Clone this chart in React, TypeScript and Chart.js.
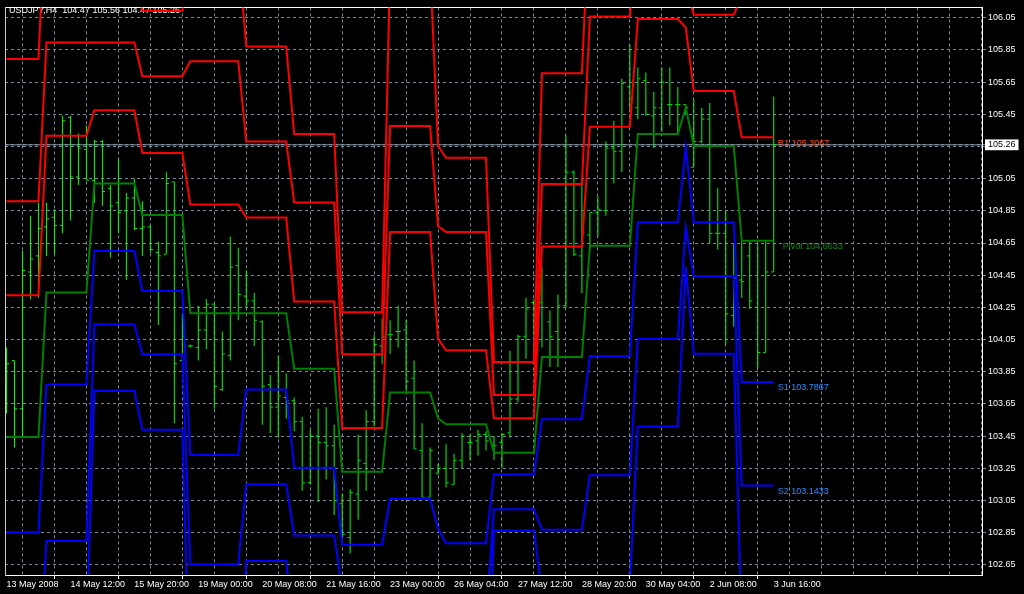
import React, { useEffect, useRef } from 'react';
import { Chart, registerables } from 'chart.js';

Chart.register(...registerables);

const symbolTitle = 'USDJPY,H4  104.47 105.56 104.47 105.26';

const xTickLabels = [
  '13 May 2008', '14 May 12:00', '15 May 20:00', '19 May 00:00', '20 May 08:00',
  '21 May 16:00', '23 May 00:00', '26 May 04:00', '27 May 12:00', '28 May 20:00',
  '30 May 04:00', '2 Jun 08:00', '3 Jun 16:00',
];

const priceTicks = [102.65, 102.85, 103.05, 103.25, 103.45, 103.65, 103.85, 104.05, 104.25, 104.45, 104.65, 104.85, 105.05, 105.25, 105.45, 105.65, 105.85, 106.05];
const bidPrice = 105.26;

// H4 bars
const highs = [104.00, 103.92, 104.60, 104.82, 104.90, 104.90, 104.86, 105.44, 105.44, 105.33, 105.38, 105.29, 105.29, 105.01, 105.17, 104.96, 105.05, 104.91, 104.76, 104.66, 105.09, 105.03, 104.21, 104.02, 104.26, 104.30, 104.27, 104.10, 104.69, 104.62, 104.48, 104.34, 104.17, 103.83, 103.95, 103.84, 103.69, 103.57, 103.49, 103.62, 103.63, 103.52, 103.09, 103.12, 103.46, 103.61, 104.08, 104.18, 104.17, 104.26, 104.17, 103.92, 103.53, 103.38, 103.28, 103.40, 103.34, 103.47, 103.46, 103.49, 103.48, 103.45, 103.47, 103.98, 104.08, 104.31, 104.30, 104.50, 104.23, 104.33, 105.32, 105.10, 105.05, 104.84, 104.94, 105.28, 105.41, 105.67, 105.88, 105.74, 105.71, 105.59, 105.74, 105.74, 105.62, 105.51, 105.54, 105.49, 105.52, 104.99, 104.85, 104.65, 104.66, 104.66, 104.65, 104.66, 105.56];
const lows = [103.59, 103.38, 103.45, 104.30, 104.31, 104.57, 104.58, 104.71, 104.79, 105.01, 105.04, 104.90, 104.88, 104.56, 104.71, 104.42, 104.73, 104.57, 104.59, 104.14, 104.58, 103.53, 103.92, 104.00, 103.92, 103.99, 103.62, 103.73, 103.92, 104.17, 104.25, 104.01, 103.52, 103.47, 103.44, 103.56, 103.48, 103.11, 103.15, 103.04, 103.18, 102.96, 102.83, 102.72, 102.93, 103.11, 103.51, 103.90, 103.96, 104.00, 103.73, 103.37, 103.07, 103.07, 103.21, 103.13, 103.15, 103.25, 103.30, 103.33, 103.36, 103.30, 103.25, 103.44, 103.66, 103.93, 103.93, 104.00, 103.88, 103.88, 104.25, 104.57, 104.34, 104.61, 104.69, 104.82, 105.02, 105.09, 105.48, 105.42, 105.44, 105.24, 105.34, 105.38, 105.32, 105.45, 105.12, 105.27, 104.65, 104.61, 104.02, 104.13, 104.31, 104.24, 103.87, 103.97, 104.47];
const opens = [103.79, 103.92, 103.62, 104.47, 104.57, 104.75, 104.81, 104.76, 105.43, 105.06, 105.23, 105.04, 105.28, 104.99, 104.90, 104.85, 104.93, 104.74, 104.75, 104.59, 104.58, 105.03, 103.92, 104.01, 104.00, 104.11, 104.27, 103.74, 103.95, 104.51, 104.32, 104.29, 104.16, 103.77, 103.63, 103.69, 103.67, 103.54, 103.16, 103.45, 103.41, 103.39, 103.03, 102.82, 103.09, 103.28, 103.54, 104.01, 104.08, 104.10, 104.11, 103.81, 103.36, 103.07, 103.22, 103.25, 103.15, 103.30, 103.41, 103.42, 103.46, 103.40, 103.41, 103.47, 103.68, 104.07, 104.28, 104.28, 104.16, 104.10, 104.26, 105.09, 104.57, 104.70, 104.84, 104.85, 105.24, 105.22, 105.62, 105.49, 105.66, 105.44, 105.49, 105.51, 105.51, 105.51, 105.12, 105.28, 105.42, 104.71, 104.71, 104.20, 104.42, 104.57, 104.25, 103.97, 104.47];
const closes = [103.90, 103.62, 104.48, 104.55, 104.74, 104.80, 104.76, 105.41, 105.06, 105.24, 105.04, 105.28, 104.97, 104.88, 104.84, 104.93, 104.74, 104.75, 104.61, 104.57, 105.02, 103.90, 104.07, 104.01, 104.11, 104.27, 103.76, 103.96, 104.50, 104.33, 104.29, 104.17, 103.76, 103.63, 103.70, 103.67, 103.54, 103.16, 103.45, 103.41, 103.39, 103.05, 102.84, 103.10, 103.30, 103.54, 104.02, 104.07, 104.08, 104.10, 103.79, 103.37, 103.07, 103.36, 103.25, 103.16, 103.30, 103.45, 103.41, 103.46, 103.42, 103.39, 103.46, 103.68, 104.07, 104.24, 104.24, 104.25, 104.07, 104.26, 105.09, 104.58, 104.71, 104.84, 104.86, 105.24, 105.22, 105.64, 105.49, 105.67, 105.45, 105.49, 105.65, 105.51, 105.51, 105.49, 105.28, 105.42, 104.71, 104.71, 104.21, 104.43, 104.41, 104.29, 103.97, 104.47, 105.26];

// daily pivot levels (one value per trading day) and the number of H4 bars of each day
const dayBars = [5, 6, 6, 6, 1, 6, 6, 6, 6, 6, 1, 6, 6, 6, 6, 6, 1, 6, 5];
const r3Levels = [105.794, 106.861, 106.350, 106.093, 106.448, 106.448, 105.871, 105.327, 104.219, 106.374, 105.253, 105.179, 103.911, 105.705, 106.797, 107.304, 106.682, 106.409, 106.8299];
const r2Levels = [104.910, 105.896, 105.896, 105.686, 105.779, 105.779, 105.280, 104.902, 103.958, 105.377, 104.754, 104.719, 103.705, 105.017, 106.058, 106.590, 106.237, 106.068, 106.1833];
const r1Levels = [104.325, 105.317, 105.475, 105.210, 104.890, 104.890, 104.808, 104.286, 103.500, 104.719, 104.054, 103.983, 103.561, 104.629, 105.372, 106.042, 105.988, 105.594, 105.3067];
const pivotLevels = [103.444, 104.342, 105.019, 104.824, 104.214, 104.214, 104.214, 103.869, 103.229, 103.721, 103.561, 103.524, 103.346, 103.941, 104.633, 105.327, 105.492, 105.253, 104.6633];
const s1Levels = [102.853, 103.771, 104.600, 104.352, 103.332, 103.332, 103.740, 103.253, 102.775, 103.062, 102.874, 102.785, 103.213, 103.555, 103.948, 104.779, 105.245, 104.779, 103.7867];
const s2Levels = [101.978, 102.798, 104.145, 103.958, 102.654, 102.654, 103.151, 102.833, 102.506, 102.065, 102.383, 102.328, 102.995, 102.868, 103.207, 104.054, 104.748, 104.445, 103.1433];
const s3Levels = [101.381, 102.225, 103.730, 103.490, 101.773, 101.773, 102.674, 102.223, 102.050, 101.406, 101.693, 101.588, 102.863, 102.482, 102.525, 103.510, 104.502, 103.962, 102.2666];

const levelLabelNames = ['R1', 'Pivot', 'S1', 'S2'];
const levelLabelValues = [105.3067, 104.6633, 103.7867, 103.1433];

const FONT = '"Liberation Sans", Arial, sans-serif';
const GRID = '#778899';

export default function App() {
  const ref = useRef<HTMLCanvasElement>(null);

  useEffect(() => {
    const canvas = ref.current;
    if (!canvas) return;
    const nBars = highs.length;
    const slots = 122.25;
    const xMin = -0.1875;
    const xMax = xMin + slots;
    const yMin = 102.587;
    const yMax = 106.114;

    const expand = (levels: number[]) => {
      const out: { x: number; y: number }[] = [];
      let i = 0;
      levels.forEach((v, d) => {
        for (let k = 0; k < dayBars[d]; k++) {
          out.push({ x: i, y: v });
          i++;
        }
      });
      return out;
    };

    const labelFor = (v: number) => {
      if (v % 8 !== 0) return '';
      const k = v / 8;
      return k >= 0 && k < xTickLabels.length ? xTickLabels[k] : '';
    };

    const levelLine = (label: string, levels: number[], color: string) => ({
      type: 'line' as const,
      label,
      data: expand(levels),
      borderColor: color,
      borderWidth: 2,
      pointRadius: 0,
      tension: 0,
      fill: false,
      clip: 0,
      order: 1,
    });

    const gridTicks: number[] = [];
    for (let v = 0; v <= 120; v += 4) gridTicks.push(v);

    const overlay = {
      id: 'overlay',
      beforeDatasetsDraw(chart: any) {
        const ctx = chart.ctx;
        ctx.save();
        ctx.font = `9px ${FONT}`;
        ctx.fillStyle = '#ffffff';
        ctx.textBaseline = 'top';
        ctx.fillText(symbolTitle, 9, 6);
        ctx.restore();
      },
      afterDatasetsDraw(chart: any) {
        const ctx = chart.ctx;
        const xs = chart.scales.x;
        const ys = chart.scales.y;
        const colors = ['#ff4a14', '#0a8c0a', '#2a8cff', '#2a8cff'];
        const dx = [4, 9, 4, 4];
        ctx.save();
        ctx.font = `9px ${FONT}`;
        ctx.textBaseline = 'top';
        levelLabelNames.forEach((name, k) => {
          const v = levelLabelValues[k];
          ctx.fillStyle = colors[k];
          ctx.fillText(`${name} ${v.toFixed(4)}`, xs.getPixelForValue(nBars - 1) + dx[k], ys.getPixelForValue(v) + 1.5);
        });
        ctx.restore();
      },
    };

    const chart = new Chart(canvas, {
      type: 'line',
      data: {
        datasets: [
          {
            type: 'line',
            label: 'bid',
            data: [{ x: xMin, y: bidPrice }, { x: xMax, y: bidPrice }],
            borderColor: '#8796a6',
            borderWidth: 1,
            pointRadius: 0,
            order: 20,
          },
          {
            type: 'bar',
            label: 'range',
            data: highs.map((h, i) => ({ x: i, y: [lows[i], h] })) as any,
            backgroundColor: '#00ff00',
            borderWidth: 0,
            barThickness: 1,
            inflateAmount: 0,
            grouped: false,
            order: 10,
          } as any,
          {
            type: 'line',
            label: 'open',
            data: opens.map((o, i) => ({ x: i - 0.1875, y: o })),
            showLine: false,
            pointStyle: 'line',
            pointRadius: 1,
            borderColor: '#00ff00',
            borderWidth: 1,
            order: 10,
          } as any,
          {
            type: 'line',
            label: 'close',
            data: closes.map((c, i) => ({ x: i + 0.1875, y: c })),
            showLine: false,
            pointStyle: 'line',
            pointRadius: 1,
            borderColor: '#00ff00',
            borderWidth: 1,
            order: 10,
          } as any,
          levelLine('R3', r3Levels, '#ff0000'),
          levelLine('R2', r2Levels, '#ff0000'),
          levelLine('R1', r1Levels, '#ff0000'),
          levelLine('Pivot', pivotLevels, '#008000'),
          levelLine('S1', s1Levels, '#0000ff'),
          levelLine('S2', s2Levels, '#0000ff'),
          levelLine('S3', s3Levels, '#0000ff'),
        ] as any,
      },
      options: {
        responsive: false,
        animation: false,
        devicePixelRatio: 1,
        events: [],
        layout: { padding: 0 },
        plugins: { legend: { display: false }, tooltip: { enabled: false }, title: { display: false } },
        scales: {
          x: {
            type: 'linear',
            position: 'bottom',
            min: xMin,
            max: xMax,
            offset: false,
            afterBuildTicks: (s: any) => {
              s.ticks = gridTicks.map((v) => ({ value: v }));
            },
            afterFit: (s: any) => {
              s.height = 19;
            },
            ticks: {
              autoSkip: false,
              maxRotation: 0,
              minRotation: 0,
              align: 'start',
              padding: 0,
              color: '#ffffff',
              font: { family: FONT, size: 9 },
              callback: (v: any) => labelFor(Number(v)),
            },
            grid: {
              color: (c: any) => (c.tick && c.tick.value === 0 ? 'rgba(0,0,0,0)' : GRID),
              lineWidth: 1,
              drawTicks: true,
              tickLength: 4,
              tickColor: (c: any) => (c.tick && labelFor(c.tick.value) ? '#ffffff' : 'rgba(0,0,0,0)'),
            },
            border: { display: true, color: '#ffffff', width: 1, dash: [3, 3] },
          },
          xTop: {
            type: 'linear',
            position: 'top',
            min: xMin,
            max: xMax,
            afterFit: (s: any) => {
              s.height = 2;
            },
            ticks: { display: false },
            grid: { drawOnChartArea: false, drawTicks: false },
            border: { display: true, color: '#ffffff', width: 1 },
          },
          yLeft: {
            type: 'linear',
            position: 'left',
            min: yMin,
            max: yMax,
            afterFit: (s: any) => {
              s.width = 4;
            },
            ticks: { display: false },
            grid: { drawOnChartArea: false, drawTicks: false },
            border: { display: true, color: '#c8c8c8', width: 1 },
          },
          y: {
            type: 'linear',
            position: 'right',
            min: yMin,
            max: yMax,
            afterBuildTicks: (s: any) => {
              s.ticks = [...priceTicks, bidPrice].sort((a, b) => a - b).map((v) => ({ value: v }));
            },
            afterFit: (s: any) => {
              s.width = 42;
            },
            ticks: {
              autoSkip: false,
              padding: 2,
              color: (c: any) => (c.tick && c.tick.value === bidPrice ? '#000000' : '#ffffff'),
              font: { family: FONT, size: 9 },
              callback: (v: any) => Number(v).toFixed(2),
              showLabelBackdrop: (c: any) => !!(c.tick && c.tick.value === bidPrice),
              backdropColor: '#ffffff',
              backdropPadding: { x: 3, y: 0 },
            },
            grid: { color: GRID, lineWidth: 1, tickLength: 4, tickColor: GRID },
            border: { display: true, color: '#ffffff', width: 1, dash: [3, 3] },
          },
        },
      } as any,
      plugins: [overlay],
    });

    return () => chart.destroy();
  }, []);

  return (
    <div style={{ position: 'fixed', left: 0, top: 0, width: 1024, height: 594, background: '#000000' }}>
      <canvas ref={ref} width={1024} height={594} style={{ display: 'block', width: 1024, height: 594 }} />
    </div>
  );
}
